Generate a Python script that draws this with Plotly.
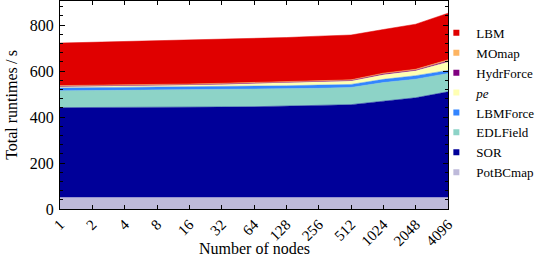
import plotly.graph_objects as go

nodes = ["1", "2", "4", "8", "16", "32", "64", "128", "256", "512", "1024", "2048", "4096"]

potbcmap = [50, 50, 50, 50, 50, 50, 50, 50, 50, 50, 50, 50, 50]
sor = [391, 391, 392, 392, 393, 394, 395, 397, 400, 404, 419, 434, 460]
edlfield = [73, 74, 74, 75, 75, 75, 75, 75, 75, 75, 81, 81, 80]
lbmforce = [13, 13, 13, 13, 13, 13, 14, 14, 14, 13, 14, 15, 13]
pe = [5, 5, 6, 7, 8, 10, 11, 13, 15, 15, 20, 21, 37]
hydrforce = [3, 3, 3, 3, 3, 3, 3, 3, 3, 3, 4, 4, 5]
momap = [2, 2, 2, 2, 2, 2, 2, 2, 2, 2, 3, 3, 4]
lbm = [185, 187, 188, 189, 191, 191, 191, 192, 193, 195, 190, 196, 203]

series = [
    ("PotBCmap", potbcmap, "#bebada"),
    ("SOR", sor, "#000099"),
    ("EDLField", edlfield, "#8dd3c7"),
    ("LBMForce", lbmforce, "#3385ff"),
    ("<i>pe</i>", pe, "#ffffb3"),
    ("HydrForce", hydrforce, "#800080"),
    ("MOmap", momap, "#fdb462"),
    ("LBM", lbm, "#e00000"),
]

fig = go.Figure()
for name, vals, col in series:
    fig.add_trace(go.Scatter(
        x=nodes, y=vals, name=name, stackgroup="one", mode="lines",
        line=dict(width=0.5, color=col), fillcolor=col, showlegend=False,
    ))
for name, vals, col in series:
    fig.add_trace(go.Scatter(
        x=[None], y=[None], name=name, mode="markers",
        marker=dict(symbol="square", size=6, color=col), showlegend=True,
    ))

font = "Liberation Serif, serif"
fig.update_layout(
    width=540, height=262,
    margin=dict(l=60, r=89, t=1, b=53),
    plot_bgcolor="white", paper_bgcolor="white",
    font=dict(family=font, size=15, color="black"),
    legend=dict(
        traceorder="reversed", x=0.97, xanchor="left", y=0.51, yanchor="middle",
        font=dict(family=font, size=13), itemwidth=30, tracegroupgap=0,
        bgcolor="rgba(0,0,0,0)", borderwidth=0,
    ),
    showlegend=True,
    annotations=[dict(
        text="Number of nodes", xref="paper", yref="paper",
        x=0.5, y=-0.1875, xanchor="center", yanchor="middle",
        showarrow=False, font=dict(family=font, size=16),
    )],
)
fig.update_xaxes(
    type="category", range=[0, 12], automargin=False,
    showline=True, mirror="ticks", linecolor="black", linewidth=1,
    ticks="inside", ticklen=4, tickcolor="black",
    tickangle=-45, showgrid=False, zeroline=False,
    tickfont=dict(family=font, size=15),
)
fig.update_yaxes(
    range=[0, 905], tickvals=[0, 200, 400, 600, 800], automargin=False,
    showline=True, mirror="ticks", linecolor="black", linewidth=1,
    ticks="inside", ticklen=5, tickcolor="black",
    minor=dict(dtick=40, tick0=0, ticks="inside", ticklen=3, tickcolor="black", showgrid=False),
    showgrid=False, zeroline=False,
    title=dict(text="Total runtimes\u2009/\u2009s", standoff=8, font=dict(family=font, size=16)),
    tickfont=dict(family=font, size=16),
    ticklabelstandoff=2,
)
fig.write_html("out.html", config={"displayModeBar": False},
               post_script="document.body.style.margin='0';")
